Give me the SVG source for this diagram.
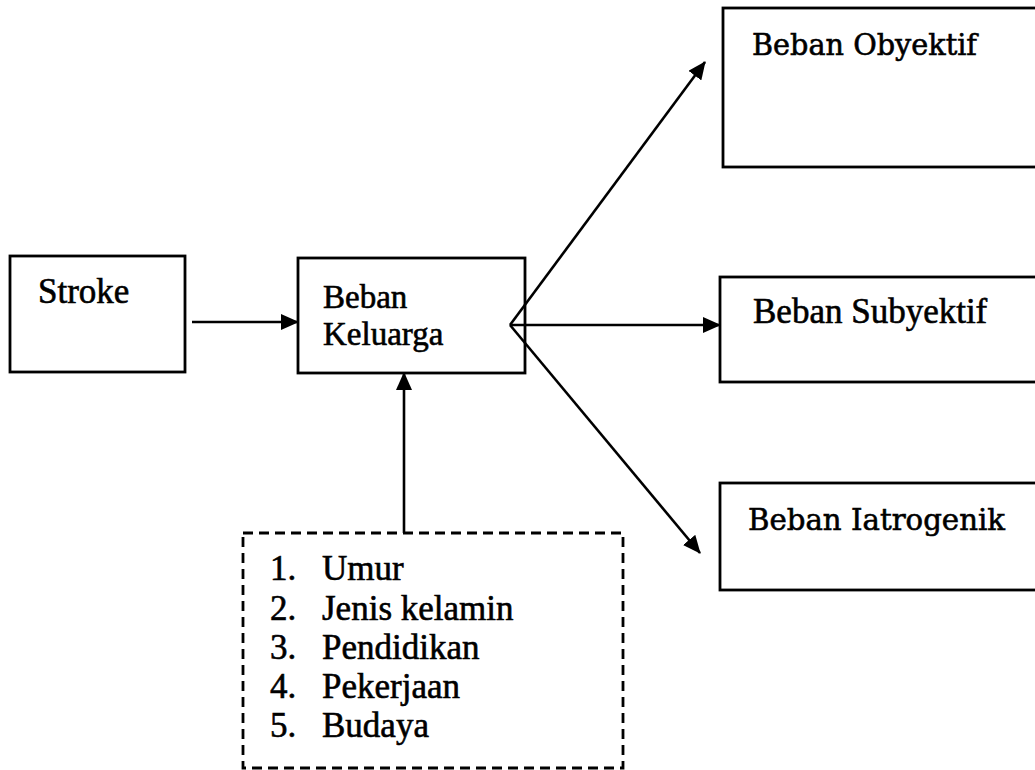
<svg xmlns="http://www.w3.org/2000/svg" width="1035" height="770" viewBox="0 0 1035 770">
<style>
.box{fill:#fff;stroke:#000;stroke-width:2.8}
.dash{fill:none;stroke:#000;stroke-width:2.8;stroke-dasharray:10 6}
.t{font-family:"Liberation Serif","Times New Roman",serif;font-size:35px;fill:#000;stroke:#000;stroke-width:0.6}
.k{font-size:33px}
.c{font-family:"DejaVu Serif","Liberation Serif",serif;font-size:29px;fill:#000;stroke:#000;stroke-width:0.6}
.ln{stroke:#000;stroke-width:2.6;fill:none}
</style>
<defs>
<marker id="ah" markerWidth="18" markerHeight="16" refX="17" refY="8" orient="auto" markerUnits="userSpaceOnUse">
<path d="M0,0 L18,8 L0,16 Z" fill="#000"/>
</marker>
</defs>
<rect width="1035" height="770" fill="#fff"/>
<g id="node-stroke">
<rect class="box" x="10" y="256" width="175" height="116"/>
<text class="t" x="38" y="303">Stroke</text>
</g>
<g id="node-beban-keluarga">
<rect class="box" x="298" y="258" width="227" height="115"/>
<text class="t k" x="323" y="308">Beban</text>
<text class="t k" x="323" y="345">Keluarga</text>
</g>
<g id="node-obyektif">
<rect class="box" x="723" y="8" width="330" height="159"/>
<text class="c" x="752" y="55" textLength="225" lengthAdjust="spacingAndGlyphs">Beban Obyektif</text>
</g>
<g id="node-subyektif">
<rect class="box" x="720" y="277" width="330" height="105"/>
<text class="t" x="753" y="323">Beban Subyektif</text>
</g>
<g id="node-iatrogenik">
<rect class="box" x="720" y="483" width="330" height="107"/>
<text class="c" x="748" y="530" textLength="257" lengthAdjust="spacingAndGlyphs">Beban Iatrogenik</text>
</g>
<g id="node-faktor">
<rect class="dash" x="243" y="533" width="380" height="235"/>
<text class="t" x="270" y="580">1.</text><text class="t" x="322" y="580">Umur</text>
<text class="t" x="270" y="620">2.</text><text class="t" x="322" y="620">Jenis kelamin</text>
<text class="t" x="270" y="659">3.</text><text class="t" x="322" y="659">Pendidikan</text>
<text class="t" x="270" y="698">4.</text><text class="t" x="322" y="698">Pekerjaan</text>
<text class="t" x="270" y="737">5.</text><text class="t" x="322" y="737">Budaya</text>
</g>
<g id="connectors">
<line class="ln" x1="192" y1="322" x2="298" y2="322" marker-end="url(#ah)"/>
<line class="ln" x1="404" y1="533" x2="404" y2="373" marker-end="url(#ah)"/>
<line class="ln" x1="510" y1="325" x2="705" y2="62" marker-end="url(#ah)"/>
<line class="ln" x1="510" y1="325" x2="720" y2="325" marker-end="url(#ah)"/>
<line class="ln" x1="510" y1="325" x2="700" y2="553" marker-end="url(#ah)"/>
</g>
</svg>
